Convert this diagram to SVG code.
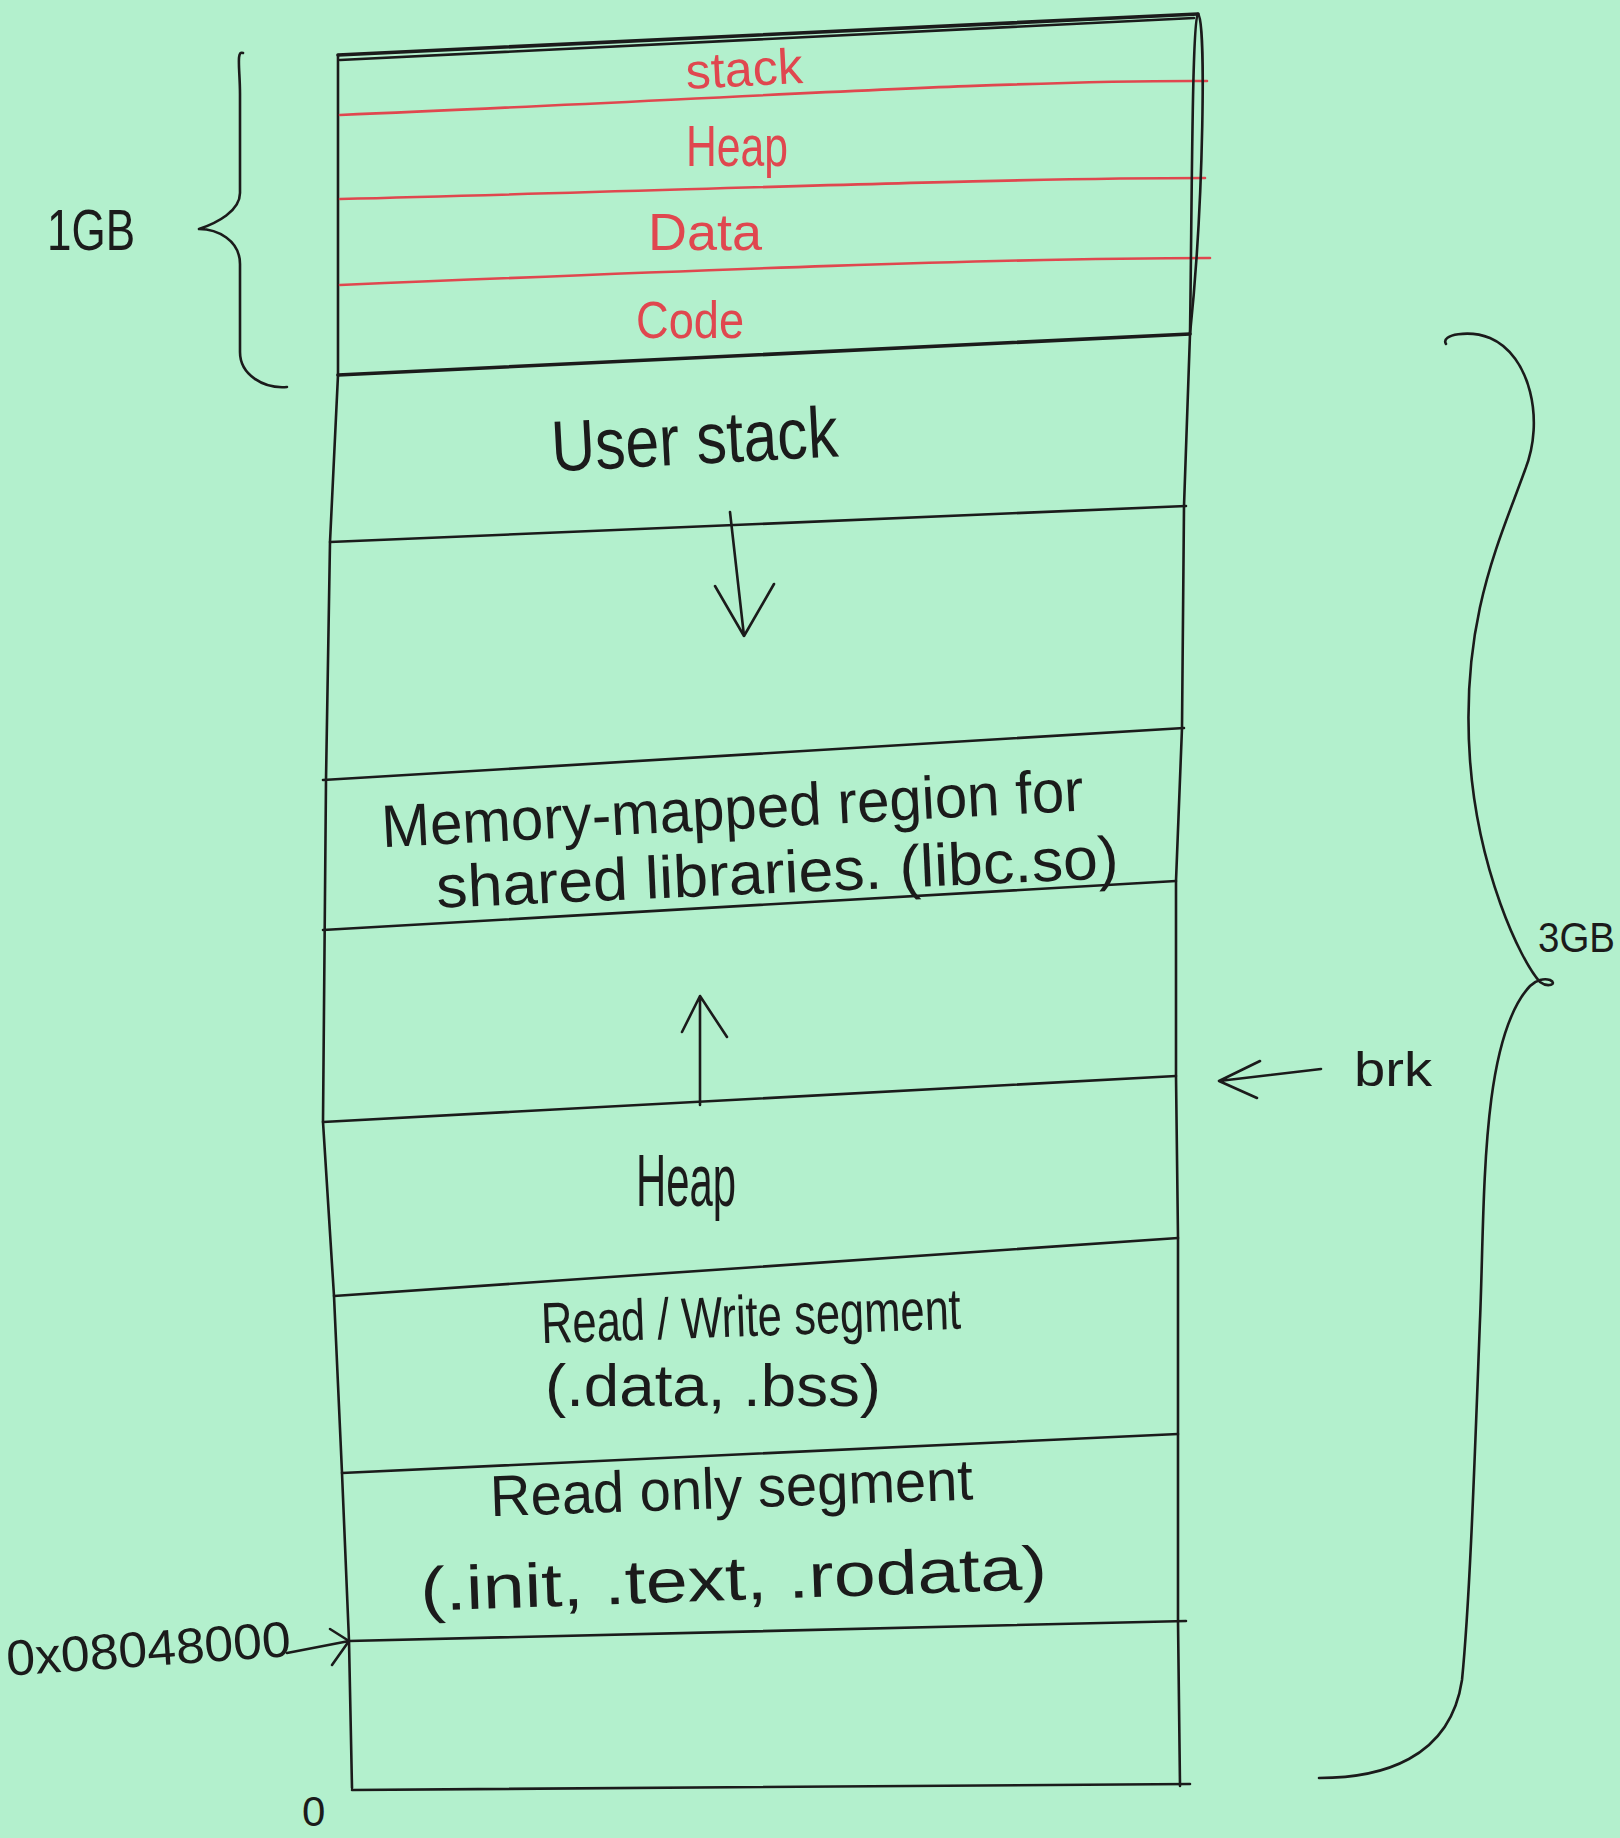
<svg xmlns="http://www.w3.org/2000/svg" width="1620" height="1838" viewBox="0 0 1620 1838">
<style>
.ln{fill:none;stroke:#1b1b1b;stroke-width:2.6;stroke-linecap:round;stroke-linejoin:round}
.thick{stroke-width:3.6}
.rd{fill:none;stroke:#e0474f;stroke-width:2.6;stroke-linecap:round}
.t{font-family:"Liberation Sans Narrow","Liberation Sans",sans-serif;fill:#1b1b1b}
.tr{font-family:"Liberation Sans Narrow","Liberation Sans",sans-serif;fill:#e0474f}
</style>
<rect width="1620" height="1838" fill="#b3f0cd"/>

<g id="kernel">
<path class="ln thick" d="M338,55 L1198,14"/>
<path class="ln" d="M340,60 L1194,18"/>
<path class="ln" d="M338,55 L338,375"/>
<path class="rd" d="M340,115 C700,100 1000,80 1207,81"/>
<path class="rd" d="M340,199 C700,190 1000,178 1205,178"/>
<path class="rd" d="M340,285 C700,270 1000,258 1210,258"/>
<path class="ln thick" d="M338,375 L1190,334"/>
<text class="tr" x="686" y="86" font-size="50" textLength="117" lengthAdjust="spacingAndGlyphs" transform="rotate(-3 744 76)">stack</text>
<text class="tr" x="686" y="166" font-size="58" textLength="102" lengthAdjust="spacingAndGlyphs">Heap</text>
<text class="tr" x="648" y="250" font-size="52" textLength="114" lengthAdjust="spacingAndGlyphs">Data</text>
<text class="tr" x="636" y="338" font-size="52" textLength="108" lengthAdjust="spacingAndGlyphs">Code</text>
</g>

<g id="outline">
<path class="ln" d="M338,375 L330,542 L326,780 L323,1122 L334,1296 L342,1473 L349,1641 L352,1788"/>
<path class="ln" d="M1198,14 C1206,20 1204,200 1190,334 L1184,506 L1182,728 L1176,881 L1176,1076 L1178,1238 L1178,1434 L1178,1621 L1180,1786"/>
<path class="ln" d="M1198,14 C1192,20 1192,200 1190,334"/>
</g>

<g id="user-stack">
<text class="t" x="551" y="464" font-size="72" textLength="287" lengthAdjust="spacingAndGlyphs" transform="rotate(-3 694 440)">User stack</text>
<path class="ln" d="M330,542 L1186,506"/>
</g>

<g id="mmap">
<path class="ln" d="M323,780 L1184,728"/>
<text class="t" x="381" y="829" font-size="60" textLength="703" lengthAdjust="spacingAndGlyphs" transform="rotate(-3 732 810)">Memory-mapped region for</text>
<text class="t" x="436" y="893" font-size="60" textLength="683" lengthAdjust="spacingAndGlyphs" transform="rotate(-2.5 777 875)">shared libraries. (libc.so)</text>
<path class="ln" d="M323,930 L1176,881"/>
</g>

<g id="heap">
<path class="ln" d="M323,1122 L1176,1076"/>
<text class="t" x="636" y="1206" font-size="74" textLength="100" lengthAdjust="spacingAndGlyphs">Heap</text>
<path class="ln" d="M334,1296 L1178,1238"/>
</g>

<g id="rw-segment">
<text class="t" x="541" y="1336" font-size="58" textLength="420" lengthAdjust="spacingAndGlyphs" transform="rotate(-2 750 1320)">Read / Write segment</text>
<text class="t" x="545" y="1406" font-size="60" textLength="336" lengthAdjust="spacingAndGlyphs">(.data, .bss)</text>
<path class="ln" d="M342,1473 L1178,1434"/>
</g>

<g id="ro-segment">
<text class="t" x="490" y="1508" font-size="58" textLength="483" lengthAdjust="spacingAndGlyphs" transform="rotate(-2 730 1490)">Read only segment</text>
<text class="t" x="420" y="1600" font-size="62" textLength="627" lengthAdjust="spacingAndGlyphs" transform="rotate(-2 733 1580)">(.init, .text, .rodata)</text>
<path class="ln" d="M349,1641 L1186,1621"/>
</g>

<g id="reserved">
<path class="ln" d="M352,1790 L1190,1784"/>
<text class="t" x="302" y="1826" font-size="42">0</text>
</g>

<g id="label-1gb">
<path class="ln" d="M243,53 C236,50 240,70 240,94 L240,193 C240,211 217,223 199,229 C217,229 240,240 240,264 L240,352 C240,375 264,389 287,387"/>
<text class="t" x="47" y="250" font-size="58" textLength="88" lengthAdjust="spacingAndGlyphs">1GB</text>
</g>

<g id="label-3gb">
<path class="ln" d="M1446,344 C1440,334 1470,330 1490,338 C1530,355 1545,420 1525,470 C1500,540 1460,620 1470,760 C1478,870 1520,960 1540,982 C1548,988 1558,984 1550,980 C1544,978 1536,980 1530,986 C1480,1040 1485,1200 1480,1320 C1475,1450 1470,1600 1462,1680 C1450,1760 1380,1778 1319,1778"/>
<text class="t" x="1538" y="952" font-size="42" textLength="77" lengthAdjust="spacingAndGlyphs">3GB</text>
</g>

<g id="label-brk">
<text class="t" x="1354" y="1086" font-size="48" textLength="78" lengthAdjust="spacingAndGlyphs">brk</text>
</g>

<g id="label-addr">
<text class="t" x="6" y="1666" font-size="50" textLength="285" lengthAdjust="spacingAndGlyphs" transform="rotate(-4 148 1650)">0x08048000</text>
</g>

<g id="connectors">
<path class="ln" d="M730,512 L744,636 M715,586 L744,636 L774,584"/>
<path class="ln" d="M700,1105 L700,996 M682,1032 L700,996 L727,1037"/>
<path class="ln" d="M1321,1069 L1219,1081 M1260,1061 L1219,1081 L1257,1098"/>
<path class="ln" d="M287,1653 L349,1641 M330,1629 L349,1641 L332,1665"/>
</g>
</svg>
